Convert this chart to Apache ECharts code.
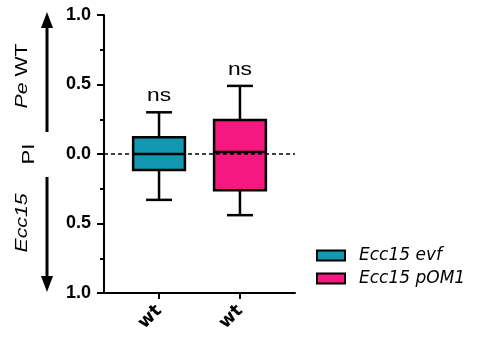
<!DOCTYPE html>
<html>
<head>
<meta charset="utf-8">
<script src="https://cdn.jsdelivr.net/npm/echarts@6/dist/echarts.min.js"></script>
<style>
  html, body { margin: 0; padding: 0; background: #fff; }
  #chart { width: 479px; height: 338px; }
</style>
</head>
<body>
<div id="chart"></div>
<script>
// groups and their box stats: [low, q1, median, q3, high]
const categories = ['wt', 'wt']
const seriesNames = ['Ecc15 evf', 'Ecc15 pOM1']
const colors = ['#1497b0', '#f5187e']
const evfStats = [-0.33, -0.115, 0.0, 0.12, 0.30]
const pom1Stats = [-0.44, -0.26, 0.015, 0.245, 0.49]
const sigLabels = ['ns', 'ns']

const font = 'Liberation Sans, Arial, sans-serif'
const wideFont = 'DejaVu Sans, sans-serif'
const chart = echarts.init(document.getElementById('chart'))

function renderBox(params, api) {
  const x = api.value(0)
  const low = api.coord([x, api.value(1)])
  const q1 = api.coord([x, api.value(2)])
  const med = api.coord([x, api.value(3)])
  const q3 = api.coord([x, api.value(4)])
  const high = api.coord([x, api.value(5)])
  const half = api.size([1, 0])[0] * 0.32
  const cap = half / 2
  const line = { stroke: '#000', lineWidth: 2.5 }
  return {
    type: 'group',
    children: [
      { type: 'line', shape: { x1: low[0], y1: low[1], x2: low[0], y2: q1[1] }, style: line },
      { type: 'line', shape: { x1: high[0], y1: q3[1], x2: high[0], y2: high[1] }, style: line },
      { type: 'line', shape: { x1: low[0] - cap, y1: low[1], x2: low[0] + cap, y2: low[1] }, style: line },
      { type: 'line', shape: { x1: high[0] - cap, y1: high[1], x2: high[0] + cap, y2: high[1] }, style: line },
      {
        type: 'rect',
        shape: { x: q3[0] - half, y: q3[1], width: half * 2, height: q1[1] - q3[1] },
        style: { fill: colors[params.seriesIndex], stroke: '#000', lineWidth: 2.5 }
      },
      { type: 'line', shape: { x1: med[0] - half, y1: med[1], x2: med[0] + half, y2: med[1] }, style: line },
      {
        type: 'text',
        x: high[0], y: high[1] - 7,
        scaleX: 1.2,
        style: {
          text: sigLabels[params.seriesIndex], fill: '#000', font: '19px ' + font,
          align: 'center', verticalAlign: 'bottom'
        }
      }
    ]
  }
}

const option = {
  animation: false,
  grid: { left: 104, top: 15, right: 184, bottom: 45, containLabel: false },
  xAxis: {
    type: 'value',
    min: -0.68,
    max: 1.68,
    splitLine: { show: false },
    axisLine: { show: true, onZero: false, lineStyle: { color: '#000', width: 2 } },
    axisTick: { show: true, customValues: [0, 1], length: 6, lineStyle: { color: '#000', width: 2 } },
    axisLabel: {
      customValues: [0, 1],
      rotate: 45,
      margin: 15,
      color: '#000',
      fontWeight: 'bold',
      fontSize: 18,
      fontFamily: wideFont,
      formatter: v => categories[Math.round(v)]
    }
  },
  yAxis: {
    type: 'value',
    min: -1,
    max: 1,
    interval: 0.5,
    splitLine: { show: false },
    axisLine: { show: true, onZero: false, lineStyle: { color: '#000', width: 2 } },
    axisTick: { show: true, length: 7, lineStyle: { color: '#000', width: 2 } },
    minorTick: { show: true, splitNumber: 2, length: 4, lineStyle: { color: '#000', width: 2 } },
    axisLabel: {
      margin: 13,
      color: '#000',
      fontWeight: 'bold',
      fontSize: 18,
      fontFamily: font,
      formatter: v => Math.abs(v).toFixed(1)
    }
  },
  legend: {
    orient: 'vertical',
    left: 311,
    top: 242,
    icon: 'rect',
    itemWidth: 28,
    itemHeight: 10,
    itemGap: 6,
    data: seriesNames,
    textStyle: { fontSize: 17, fontStyle: 'italic', fontFamily: wideFont, color: '#000', padding: [0, 0, 0, 9] }
  },
  series: [evfStats, pom1Stats].map((s, i) => ({
    name: seriesNames[i],
    type: 'custom',
    renderItem: renderBox,
    itemStyle: { color: colors[i], borderColor: '#000', borderWidth: 2.5 },
    encode: { x: 0, y: [1, 2, 3, 4, 5] },
    data: [[i].concat(s)],
    markLine: i === 0 ? {
      silent: true,
      symbol: 'none',
      label: { show: false },
      lineStyle: { color: '#000', type: [4, 3], width: 1.5 },
      data: [{ yAxis: 0 }]
    } : undefined
  })),
  graphic: [
    // side labels and arrows
    { type: 'line', shape: { x1: 47, y1: 132, x2: 47, y2: 26 }, style: { stroke: '#000', lineWidth: 3 } },
    { type: 'polygon', shape: { points: [[47, 12], [41, 28], [53, 28]] }, style: { fill: '#000' } },
    { type: 'line', shape: { x1: 47, y1: 177, x2: 47, y2: 278 }, style: { stroke: '#000', lineWidth: 3 } },
    { type: 'polygon', shape: { points: [[47, 292], [41, 276], [53, 276]] }, style: { fill: '#000' } },
    {
      type: 'text', x: 22, y: 76, rotation: Math.PI / 2, scaleX: 1.25,
      style: {
        text: '{i|Pe} WT', font: '17px ' + font, fill: '#000', align: 'center', verticalAlign: 'middle',
        rich: { i: { fontStyle: 'italic', fontSize: 17, fontFamily: font } }
      }
    },
    {
      type: 'text', x: 29, y: 154, rotation: Math.PI / 2, scaleX: 1.3,
      style: { text: 'PI', font: '17px ' + font, fill: '#000', align: 'center', verticalAlign: 'middle' }
    },
    {
      type: 'text', x: 22, y: 223, rotation: Math.PI / 2, scaleX: 1.25,
      style: { text: 'Ecc15', font: 'italic 17px ' + font, fill: '#000', align: 'center', verticalAlign: 'middle' }
    }
  ]
}

chart.setOption(option)
</script>
</body>
</html>
